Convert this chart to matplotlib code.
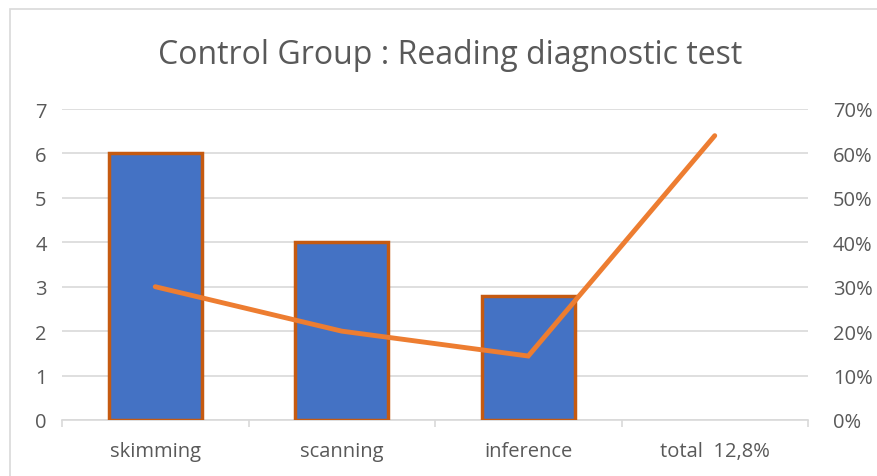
import matplotlib.pyplot as plt
from matplotlib.patches import Rectangle
from matplotlib.ticker import FuncFormatter, MultipleLocator

plt.rcParams['font.family'] = ['Open Sans', 'DejaVu Sans']

categories = ['skimming', 'scanning', 'inference', 'total  12,8%']
bar_values = [6, 4, 2.8, 0]
line_values = [0.30, 0.20, 0.144, 0.64]

TEXT = '#595959'
GRID = '#D9D9D9'
BAR_FILL = '#4472C4'
BAR_EDGE = '#C55A11'
LINE = '#ED7D31'

fig = plt.figure(figsize=(8.78, 4.77), dpi=100)
fig.patches.append(Rectangle((10 / 878, -0.1), 1.2, (477 - 10) / 477 + 0.1,
                             transform=fig.transFigure, fill=False,
                             edgecolor='#D9D9D9', linewidth=1.2))

ax = fig.add_axes([62 / 878, 1 - 421 / 477, (808 - 62) / 878, (421 - 110) / 477])
x = list(range(len(categories)))

ax.bar(x[:3], bar_values[:3], width=0.5, color=BAR_FILL, edgecolor=BAR_EDGE,
       linewidth=2.5, zorder=3)
ax.set_xlim(-0.5, len(categories) - 0.5)
ax.set_ylim(0, 7)
ax.yaxis.set_major_locator(MultipleLocator(1))
ax.grid(True, axis='y', color=GRID, linewidth=1.2, zorder=0)
ax.set_axisbelow(True)

for side in ['top', 'right', 'left']:
    ax.spines[side].set_visible(False)
ax.spines['bottom'].set_color(GRID)
ax.spines['bottom'].set_linewidth(1.2)

ax.set_xticks([i - 0.5 for i in range(len(categories) + 1)], minor=False)
ax.set_xticklabels([])
ax.set_xticks(x, minor=True)
ax.set_xticklabels(categories, minor=True)
ax.tick_params(axis='x', which='major', length=5, color=GRID, width=1.2)
ax.tick_params(axis='x', which='minor', length=0, pad=15, labelsize=14.5, labelcolor=TEXT)
ax.tick_params(axis='y', length=0, pad=11, labelsize=14.5, labelcolor=TEXT)

ax2 = ax.twinx()
ax2.plot(x, line_values, color=LINE, linewidth=3.5, solid_capstyle='round',
         solid_joinstyle='miter', zorder=4)
ax2.set_ylim(0, 0.7)
ax2.yaxis.set_major_locator(MultipleLocator(0.1))
ax2.yaxis.set_major_formatter(FuncFormatter(lambda v, _: f'{v * 100:.0f}%'))
ax2.tick_params(axis='y', length=0, pad=18, labelsize=14.5, labelcolor=TEXT)
for side in ['top', 'right', 'left', 'bottom']:
    ax2.spines[side].set_visible(False)

fig.text(450 / 878, 1 - 55 / 477, 'Control Group : Reading diagnostic test',
         ha='center', va='center', fontsize=23, color=TEXT)

fig.savefig('out.png', dpi=100, facecolor='white')
